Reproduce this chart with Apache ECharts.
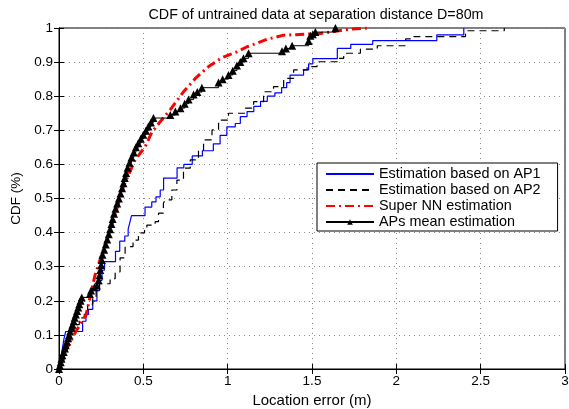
<!DOCTYPE html>
<html>
<head>
<meta charset="utf-8">
<script src="https://cdn.jsdelivr.net/npm/echarts@6/dist/echarts.min.js"></script>
<style>html,body{margin:0;padding:0;background:#fff;}#c{width:569px;height:409px;}</style>
</head>
<body>
<div id="c"></div>
<script>
// ---- data ----
var titleText = 'CDF of untrained data at separation distance D=80m';
var xName = 'Location error (m)';
var yName = 'CDF (%)';
var seriesNames = ['Estimation based on AP1', 'Estimation based on AP2', 'Super NN estimation', 'APs mean estimation'];
var xTicks = ['0', '0.5', '1', '1.5', '2', '2.5', '3'];
var yTicks = ['0', '0.1', '0.2', '0.3', '0.4', '0.5', '0.6', '0.7', '0.8', '0.9', '1'];

var ap1 = [[0,0],[0.01,0.03],[0.02,0.06],[0.03,0.09],[0.04,0.11],[0.14,0.14],[0.16,0.16],[0.175,0.175],[0.2,0.2],[0.225,0.23],[0.24,0.26],[0.255,0.29],[0.27,0.315],[0.335,0.345],[0.36,0.375],[0.39,0.39],[0.41,0.41],[0.42,0.43],[0.43,0.45],[0.51,0.475],[0.55,0.49],[0.575,0.505],[0.6,0.525],[0.62,0.56],[0.7,0.59],[0.74,0.6],[0.79,0.625],[0.85,0.64],[0.915,0.66],[0.955,0.685],[0.995,0.71],[1.045,0.72],[1.075,0.74],[1.115,0.755],[1.155,0.77],[1.195,0.785],[1.235,0.8],[1.28,0.81],[1.32,0.825],[1.35,0.84],[1.37,0.862],[1.45,0.877],[1.48,0.895],[1.505,0.91],[1.65,0.94],[1.73,0.952],[1.86,0.963],[2.24,0.98],[2.4,1.0]];

var ap2 = [[0,0],[0.01,0.02],[0.03,0.05],[0.05,0.08],[0.07,0.11],[0.09,0.13],[0.12,0.15],[0.15,0.17],[0.17,0.19],[0.2,0.21],[0.22,0.23],[0.24,0.25],[0.303,0.265],[0.333,0.285],[0.362,0.326],[0.392,0.359],[0.439,0.378],[0.471,0.399],[0.507,0.408],[0.521,0.422],[0.57,0.432],[0.59,0.457],[0.619,0.486],[0.629,0.496],[0.669,0.525],[0.699,0.554],[0.738,0.589],[0.778,0.613],[0.827,0.642],[0.857,0.672],[0.907,0.701],[0.946,0.73],[1.005,0.75],[1.105,0.765],[1.154,0.784],[1.213,0.813],[1.272,0.828],[1.332,0.852],[1.391,0.877],[1.471,0.887],[1.53,0.901],[1.649,0.911],[1.688,0.926],[1.787,0.938],[1.887,0.948],[2.055,0.968],[2.104,0.975],[2.41,0.992],[2.64,1.0]];

var superNN = [[0,0],[0.012,0.032],[0.052,0.065],[0.1,0.11],[0.16,0.158],[0.214,0.276],[0.243,0.32],[0.29,0.39],[0.333,0.452],[0.382,0.535],[0.451,0.613],[0.511,0.652],[0.55,0.694],[0.6,0.725],[0.659,0.76],[0.738,0.813],[0.808,0.852],[0.887,0.887],[0.966,0.913],[1.055,0.93],[1.115,0.945],[1.154,0.952],[1.233,0.967],[1.332,0.979],[1.471,0.982],[1.55,0.984],[1.65,0.991],[1.728,0.997],[1.827,1.0]];

var apsMean = [[0,0],[0.005,0.01],[0.01,0.02],[0.015,0.03],[0.02,0.04],[0.028,0.05],[0.035,0.06],[0.04,0.07],[0.047,0.08],[0.053,0.09],[0.06,0.1],[0.066,0.11],[0.073,0.12],[0.08,0.13],[0.087,0.14],[0.093,0.15],[0.1,0.16],[0.107,0.17],[0.114,0.18],[0.12,0.19],[0.128,0.2],[0.135,0.21],[0.183,0.22],[0.19,0.23],[0.21,0.24],[0.225,0.245],[0.235,0.26],[0.24,0.275],[0.245,0.29],[0.25,0.305],[0.254,0.32],[0.258,0.335],[0.268,0.35],[0.277,0.365],[0.286,0.38],[0.295,0.395],[0.303,0.41],[0.311,0.425],[0.318,0.44],[0.326,0.455],[0.335,0.47],[0.345,0.485],[0.355,0.5],[0.365,0.515],[0.374,0.53],[0.382,0.545],[0.39,0.56],[0.398,0.575],[0.407,0.59],[0.418,0.605],[0.43,0.62],[0.443,0.635],[0.456,0.65],[0.47,0.662],[0.485,0.675],[0.5,0.687],[0.515,0.699],[0.53,0.711],[0.545,0.723],[0.56,0.736],[0.66,0.745],[0.69,0.755],[0.72,0.765],[0.745,0.778],[0.768,0.79],[0.798,0.805],[0.82,0.812],[0.847,0.825],[0.946,0.84],[0.97,0.85],[1.005,0.862],[1.03,0.875],[1.055,0.89],[1.075,0.9],[1.094,0.911],[1.124,0.926],[1.322,0.932],[1.345,0.94],[1.382,0.948],[1.48,0.962],[1.49,0.977],[1.505,0.982],[1.52,0.988],[1.639,1.0]];

// ---- chart ----
var FONT = 'Liberation Sans, Arial, Helvetica, sans-serif';
var chart = echarts.init(document.getElementById('c'), null, {renderer: 'canvas'});
var gridLine = {show: true, lineStyle: {color: '#8a8a8a', type: [1, 4], width: 1}};
function tickFmtX(v) { var i = Math.round(v / 0.5); return xTicks[i] !== undefined ? xTicks[i] : ''; }
function tickFmtY(v) { var i = Math.round(v / 0.1); return yTicks[i] !== undefined ? yTicks[i] : ''; }

var option = {
  backgroundColor: '#fff',
  animation: false,
  title: {
    text: titleText, left: 311, top: 3, textAlign: 'center',
    textStyle: {fontFamily: FONT, fontSize: 14.3, fontWeight: 'normal', color: '#000'}
  },
  grid: {left: 59, right: 4, top: 28, bottom: 40, containLabel: false, outerBoundsMode: 'none',
         show: true, borderColor: '#000', borderWidth: 1, backgroundColor: '#fff'},
  legend: {
    orient: 'vertical', left: 317, top: 163,
    data: [
      {name: seriesNames[0], itemStyle: {opacity: 0}},
      {name: seriesNames[1], itemStyle: {opacity: 0}},
      {name: seriesNames[2], itemStyle: {opacity: 0}},
      {name: seriesNames[3]}
    ],
    backgroundColor: '#fff', borderColor: '#000', borderWidth: 1, borderRadius: 0,
    padding: [4, 17, 2, 8], itemGap: 2, itemWidth: 48, itemHeight: 7, itemTextGap: 6,
    textStyle: {fontFamily: FONT, fontSize: 14.4, color: '#000'}
  },
  xAxis: [{
    type: 'value', min: 0, max: 3, interval: 0.5,
    name: xName, nameLocation: 'middle', nameGap: 22,
    nameTextStyle: {fontFamily: FONT, fontSize: 15, color: '#000'},
    axisLine: {show: true, lineStyle: {color: '#000'}},
    axisTick: {show: true, inside: true, length: 5, lineStyle: {color: '#000'}},
    axisLabel: {formatter: tickFmtX, fontFamily: FONT, fontSize: 13.5, color: '#000', margin: 5},
    splitLine: gridLine
  }, {
    type: 'value', min: 0, max: 3, interval: 0.5, position: 'top',
    axisLine: {show: true, lineStyle: {color: '#000'}},
    axisTick: {show: true, inside: true, length: 5, lineStyle: {color: '#000'}},
    axisLabel: {show: false}, splitLine: {show: false}
  }],
  yAxis: [{
    type: 'value', min: 0, max: 1, interval: 0.1,
    name: yName, nameLocation: 'middle', nameGap: 34,
    nameTextStyle: {fontFamily: FONT, fontSize: 13.5, color: '#000'},
    axisLine: {show: true, lineStyle: {color: '#000'}},
    axisTick: {show: true, inside: true, length: 5, lineStyle: {color: '#000'}},
    axisLabel: {formatter: tickFmtY, fontFamily: FONT, fontSize: 13.5, color: '#000', margin: 6},
    splitLine: gridLine
  }, {
    type: 'value', min: 0, max: 1, interval: 0.1, position: 'right',
    axisLine: {show: true, lineStyle: {color: '#000'}},
    axisTick: {show: true, inside: true, length: 5, lineStyle: {color: '#000'}},
    axisLabel: {show: false}, splitLine: {show: false}
  }],
  series: [{
    name: seriesNames[0], type: 'line', step: 'end', data: ap1,
    showSymbol: false, symbol: 'none',
    lineStyle: {color: '#0000ff', width: 1.2}, itemStyle: {color: '#0000ff'}, z: 2
  }, {
    name: seriesNames[1], type: 'line', step: 'end', data: ap2,
    showSymbol: false, symbol: 'none',
    lineStyle: {color: '#000', width: 1.2, type: [7, 5]}, itemStyle: {color: '#000'}, z: 3
  }, {
    name: seriesNames[2], type: 'line', data: superNN,
    showSymbol: false, symbol: 'none',
    lineStyle: {color: '#ff0000', width: 3, type: [9, 4, 2, 4]}, itemStyle: {color: '#ff0000'}, z: 4
  }, {
    name: seriesNames[3], type: 'line', step: 'end', data: apsMean,
    symbol: 'triangle', symbolSize: 8, showSymbol: true,
    lineStyle: {color: '#000', width: 1}, itemStyle: {color: '#000'}, z: 5
  }]
};
chart.setOption(option);
</script>
</body>
</html>
